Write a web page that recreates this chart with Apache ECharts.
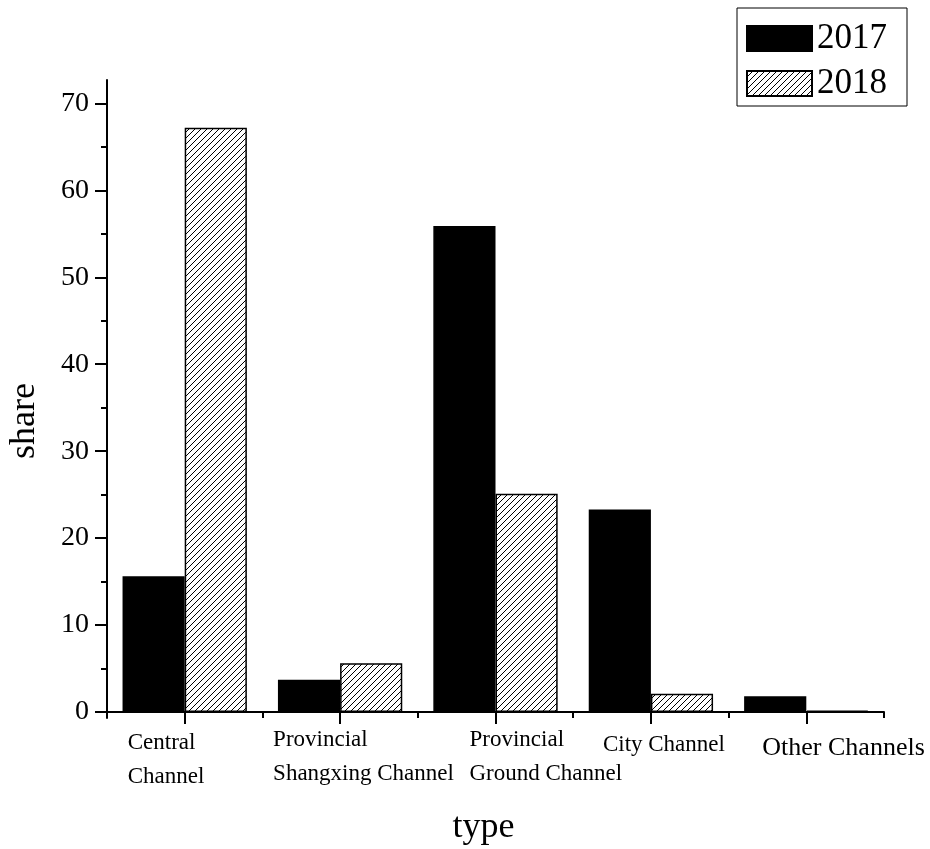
<!DOCTYPE html>
<html>
<head>
<meta charset="utf-8">
<script src="https://cdn.jsdelivr.net/npm/echarts@6/dist/echarts.min.js"></script>
<style>
  html, body { margin: 0; padding: 0; background: #fff; }
  #chart { width: 930px; height: 849px; }
</style>
</head>
<body>
<div id="chart"></div>
<script>
// Channel share by type, 2017 vs 2018
const categories = [
  'Central\nChannel',
  'Provincial\nShangxing Channel',
  'Provincial\nGround Channel',
  'City Channel',
  'Other Channels'
];
const share2017 = [15.6, 3.7, 55.9, 23.3, 1.8];
const share2018 = [67.2, 5.6, 25.1, 2.1, 0.15];
const majorTicks = [0, 10, 20, 30, 40, 50, 60, 70];
const minorTicks = [5, 15, 25, 35, 45, 55, 65];

// label placement tweaks per category: [top, right, bottom, left] padding
const labelPads = [
  [4, 0, 0, -57],
  [1, 0, 0, -67],
  [1, 0, 0, -26],
  [6, 0, 0, -48],
  [9, 0, 0, -44]
];
const labelSizes = [23, 23, 23, 23, 26];

const FONT = '"Liberation Serif", "Times New Roman", serif';

// diagonal hatch fill
function makeHatch() {
  const s = 6;
  const c = document.createElement('canvas');
  c.width = s; c.height = s;
  const g = c.getContext('2d');
  g.fillStyle = '#fff';
  g.fillRect(0, 0, s, s);
  g.strokeStyle = '#000';
  g.lineWidth = 1;
  g.beginPath();
  g.moveTo(0, s); g.lineTo(s, 0);
  g.moveTo(-1, 1); g.lineTo(1, -1);
  g.moveTo(s - 1, s + 1); g.lineTo(s + 1, s - 1);
  g.stroke();
  return c;
}
const hatch = { image: makeHatch(), repeat: 'repeat' };

const catData = categories.map((c, i) => ({
  value: c,
  textStyle: { align: 'left', padding: labelPads[i], fontSize: labelSizes[i], lineHeight: 34 }
}));

const chart = echarts.init(document.getElementById('chart'));
chart.setOption({
  animation: false,
  backgroundColor: '#fff',
  textStyle: { fontFamily: FONT, color: '#000' },
  grid: { left: 107, right: 46, top: 80, bottom: 131, containLabel: false, outerBoundsMode: 'none' },
  legend: {
    orient: 'vertical',
    left: 737,
    top: 8,
    padding: [13, 20, 5, 9],
    itemGap: 10,
    itemWidth: 65,
    itemHeight: 25,
    icon: 'rect',
    borderColor: '#000',
    borderWidth: 1,
    textStyle: { fontFamily: FONT, fontSize: 35, color: '#000', lineHeight: 33 },
    data: ['2017', '2018']
  },
  xAxis: [
    {
      type: 'category',
      data: catData,
      boundaryGap: true,
      name: 'type',
      nameLocation: 'middle',
      nameGap: 92,
      nameTextStyle: { fontFamily: FONT, fontSize: 36, color: '#000', padding: [0, 24, 0, 0] },
      axisLine: { show: true, onZero: true, lineStyle: { color: '#000', width: 2 } },
      axisTick: { show: true, inside: false, alignWithLabel: true, interval: 0, length: 12, lineStyle: { color: '#000', width: 2 } },
      axisLabel: {
        interval: 0,
        margin: 4,
        fontFamily: FONT,
        fontSize: 23,
        lineHeight: 34,
        color: '#000'
      },
      splitLine: { show: false }
    },
    {
      type: 'category',
      data: categories,
      boundaryGap: true,
      position: 'bottom',
      axisLine: { show: false, onZero: true },
      axisTick: { show: true, inside: false, interval: 0, length: 6, lineStyle: { color: '#000', width: 2 } },
      axisLabel: { show: false },
      splitLine: { show: false }
    }
  ],
  yAxis: [
    {
      type: 'value',
      min: -0.7,
      max: 72.7,
      name: 'share',
      nameLocation: 'middle',
      nameGap: 64,
      nameRotate: 90,
      nameTextStyle: { fontFamily: FONT, fontSize: 36, color: '#000', padding: [0, 44, 0, 0] },
      axisLine: { show: true, lineStyle: { color: '#000', width: 2 } },
      axisTick: { show: true, length: 12, customValues: majorTicks, lineStyle: { color: '#000', width: 2 } },
      axisLabel: { customValues: majorTicks, margin: 18, fontFamily: FONT, fontSize: 28, color: '#000' },
      splitLine: { show: false }
    },
    {
      type: 'value',
      min: -0.7,
      max: 72.7,
      position: 'left',
      axisLine: { show: false },
      axisTick: { show: true, length: 6, customValues: minorTicks, lineStyle: { color: '#000', width: 2 } },
      axisLabel: { show: false },
      splitLine: { show: false }
    }
  ],
  series: [
    {
      name: '2017',
      type: 'bar',
      data: share2017,
      barGap: '0%',
      barCategoryGap: '20%',
      itemStyle: { color: '#000', borderColor: '#000', borderWidth: 1.5 }
    },
    {
      name: '2018',
      type: 'bar',
      data: share2018,
      barGap: '0%',
      barCategoryGap: '20%',
      itemStyle: { color: hatch, borderColor: '#000', borderWidth: 1.5 }
    }
  ]
});
</script>
</body>
</html>
